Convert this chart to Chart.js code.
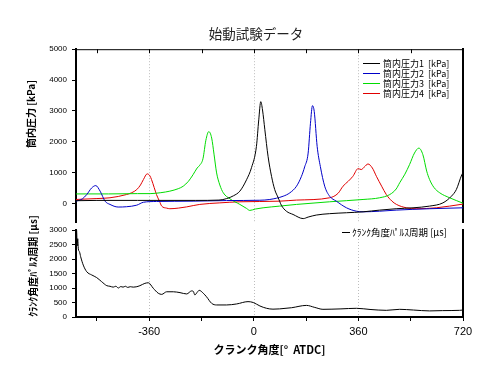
<!DOCTYPE html>
<html><head><meta charset="utf-8">
<script src="https://cdn.jsdelivr.net/npm/chart.js@4"></script>
<style>
html,body{margin:0;padding:0;background:#fff;}
#wrap{position:relative;width:500px;height:381px;overflow:hidden;}
.pane{position:absolute;left:0;}
</style></head><body>
<div id="wrap">
  <div class="pane" style="top:0;width:500px;height:226px"><canvas id="c1" width="500" height="226"></canvas></div>
  <div class="pane" style="top:200px;width:500px;height:181px"><canvas id="c2" width="500" height="181"></canvas></div>
</div>
<script>
// ---------------- data ----------------
const angleTicks = [-540, -360, -180, 0, 180, 360, 540, 720];
const angleLabels = [-360, 0, 360, 720];
const gridAngles = [-360, 0, 360];
const pressureTicks = [0, 1000, 2000, 3000, 4000, 5000];
const periodTicks = [0, 500, 1000, 1500, 2000, 2500, 3000];

const seriesNames = ['筒内圧力1  [kPa]', '筒内圧力2  [kPa]', '筒内圧力3  [kPa]', '筒内圧力4  [kPa]'];
const pulseName = 'ｸﾗﾝｸ角度ﾊﾟﾙｽ周期 [μs]';

const p1Angle = [-612,-540,-400,-200,-120,-93,-70,-48,-25,-8,9,17,24,30,38,49,61,72,84,95,112,135,170,187,215,261,319,376,433,490,548,605,651,680,697,716,720];
const p1Value = [90,100,100,100,110,160,250,400,770,1160,1850,2710,3300,3030,2390,1530,880,450,185,-60,-250,-355,-490,-440,-375,-330,-300,-270,-215,-170,-140,-85,20,235,450,935,1000];

const p2Angle = [-612,-590,-575,-558,-544,-529,-512,-495,-467,-438,-403,-380,-335,-209,-94,21,55,101,124,147,164,175,187,195,202,208,218,229,244,261,284,319,353,376,433,490,605,720];
const p2Value = [75,150,290,505,580,400,75,-30,-115,-105,-55,40,65,75,95,105,130,235,345,560,880,1185,1635,2600,3170,2980,1850,1200,560,235,75,-140,-250,-270,-250,-215,-170,-140];

const p3Angle = [-612,-500,-400,-357,-320,-289,-260,-243,-225,-209,-195,-186,-175,-165,-155,-145,-137,-128,-117,-105,-82,-48,-25,-14,5,32,89,147,261,376,433,468,490,502,520,536,553,568,582,595,605,620,640,674,720];
const p3Value = [310,310,320,320,350,400,480,560,720,935,1150,1240,1450,2050,2330,2120,1600,990,600,345,150,-30,-160,-225,-180,-140,-85,-30,55,130,185,290,470,670,950,1260,1635,1795,1580,1050,775,520,345,185,10];

const p4Angle = [-612,-540,-495,-438,-420,-403,-390,-380,-367,-358,-352,-343,-335,-325,-317,-300,-289,-260,-231,-186,-117,-48,89,147,261,290,307,325,341,359,370,380,393,408,422,440,456,475,491,525,559,628,720];
const p4Value = [130,160,185,290,350,450,600,775,960,900,775,520,290,80,-85,-150,-170,-150,-110,-30,20,55,75,110,185,330,560,720,880,1130,1100,1180,1280,1150,880,560,290,80,-30,-140,-170,-140,-20];

const pulseAngle = [-612,-610,-608,-606,-604,-600,-596,-587,-575,-558,-541,-524,-506,-495,-484,-475,-466,-458,-450,-442,-434,-425,-415,-405,-392,-375,-363,-346,-329,-317,-300,-277,-254,-231,-214,-208,-203,-195,-188,-174,-163,-145,-128,-94,-59,-20,-2,21,44,66,89,130,181,210,238,300,353,400,456,502,550,605,650,708,720];
const pulseValue = [2650,3000,2450,2700,2350,2250,2080,1790,1560,1450,1360,1220,1080,1060,1030,1060,1000,1050,1030,1060,1020,1045,1030,1040,1080,1160,1180,990,820,780,870,870,840,795,900,880,760,850,920,820,700,470,415,415,450,530,500,380,300,270,280,320,400,330,265,280,300,260,230,265,240,210,220,230,240];

// ---------------- helpers ----------------
const CJK = "'Noto Sans CJK JP', 'Noto Sans', sans-serif";
const NUM = "'Liberation Sans', Arial, sans-serif";
const pts = (xs, ys) => xs.map((x, i) => ({x, y: ys[i]}));
const noEdgePad = s => { s.paddingTop = 0; s.paddingBottom = 0; s.paddingLeft = 0; s.paddingRight = 0; };

const framePlugin = {
  id: 'frame',
  beforeDatasetsDraw(chart, args, o) {
    const {ctx, chartArea: a, scales: {x}} = chart;
    ctx.save();
    ctx.strokeStyle = '#bdbdbd'; ctx.lineWidth = 1; ctx.setLineDash([1, 2]);
    for (const v of gridAngles) {
      const px = Math.round(x.getPixelForValue(v)) + 0.5;
      ctx.beginPath(); ctx.moveTo(px, a.top); ctx.lineTo(px, a.bottom); ctx.stroke();
    }
    ctx.restore();
  },
  afterDraw(chart, args, o) {
    const {ctx, chartArea: a, scales: {x}} = chart;
    ctx.save();
    ctx.strokeStyle = '#000'; ctx.lineWidth = 1;
    if (o.topBorder) {
      ctx.beginPath(); ctx.moveTo(a.left, a.top + 0.5); ctx.lineTo(a.right, a.top + 0.5); ctx.stroke();
      for (const v of angleTicks) {
        const px = Math.round(x.getPixelForValue(v)) + 0.5;
        ctx.beginPath(); ctx.moveTo(px, a.top); ctx.lineTo(px, a.top + 4); ctx.stroke();
      }
    }
    // y-axis title
    ctx.save();
    ctx.fillStyle = '#000';
    ctx.font = 'bold 10px ' + CJK;
    ctx.translate(o.titleX, o.titleY); ctx.rotate(-Math.PI / 2);
    ctx.textAlign = 'center'; ctx.textBaseline = 'middle';
    ctx.fillText(o.yTitle, 0, 0);
    ctx.restore();
    // legend
    const L = o.legend;
    ctx.font = L.font + ' ' + CJK;
    ctx.textAlign = 'left'; ctx.textBaseline = 'middle';
    chart.data.datasets.forEach((d, i) => {
      const y = Math.round(L.y0 + i * L.dy) + 0.5;
      ctx.strokeStyle = d.borderColor; ctx.lineWidth = 1;
      ctx.beginPath(); ctx.moveTo(L.x0, y); ctx.lineTo(L.x1, y); ctx.stroke();
      ctx.fillStyle = '#000';
      ctx.fillText(d.label, L.tx, y);
    });
    ctx.restore();
  }
};

const lineDS = (label, xs, ys, color) => ({
  label, data: pts(xs, ys), borderColor: color, backgroundColor: color,
  borderWidth: 1, pointRadius: 0, fill: false, cubicInterpolationMode: 'monotone'
});

const xScale = (display, height) => ({
  type: 'linear', min: -612, max: 720, display,
  afterBuildTicks: s => { s.ticks = angleTicks.map(v => ({value: v})); },
  afterFit: s => { noEdgePad(s); s.height = height; },
  ticks: {
    autoSkip: false, maxRotation: 0, padding: 4, color: '#000',
    font: {family: NUM, size: 11},
    callback: v => angleLabels.includes(v) ? String(v) : ''
  },
  grid: {drawOnChartArea: false, drawTicks: true, tickLength: 4, tickColor: '#000', tickWidth: 1},
  border: {display: true, color: '#000', width: 2}
});

const yLeft = (min, max, ticks) => ({
  type: 'linear', position: 'left', min, max,
  afterBuildTicks: s => { s.ticks = ticks.map(v => ({value: v})); },
  afterFit: s => { noEdgePad(s); s.width = 64; },
  ticks: {padding: 5, color: '#000', font: {family: NUM, size: 8}, callback: v => String(v)},
  grid: {drawOnChartArea: false, drawTicks: true, tickLength: 4, tickColor: '#000', tickWidth: 1},
  border: {display: true, color: '#000', width: 2}
});
const yRight = (min, max) => ({
  type: 'linear', position: 'right', min, max,
  afterFit: s => { noEdgePad(s); s.width = 37; },
  ticks: {display: false},
  grid: {drawOnChartArea: false, drawTicks: false},
  border: {display: true, color: '#000', width: 2}
});

// ---------------- top chart ----------------
new Chart(document.getElementById('c1'), {
  type: 'line',
  data: {datasets: [
    lineDS(seriesNames[0], p1Angle, p1Value, '#000000'),
    lineDS(seriesNames[1], p2Angle, p2Value, '#0000c8'),
    lineDS(seriesNames[2], p3Angle, p3Value, '#00dc00'),
    lineDS(seriesNames[3], p4Angle, p4Value, '#e00000')
  ]},
  options: {
    responsive: false, animation: false,
    layout: {padding: {left: 12, right: 0, top: 0, bottom: 4}},
    scales: {x: xScale(false, 0), y: yLeft(-600, 5000, pressureTicks), yR: yRight(-600, 5000)},
    plugins: {
      legend: {display: false}, tooltip: {enabled: false},
      title: {display: true, text: '始動試験データ', color: '#222',
        font: {family: CJK, size: 13.5, weight: 'normal'}, padding: {top: 26, bottom: 7}},
      frame: {topBorder: true, yTitle: '筒内圧力 [kPa]', titleX: 31, titleY: 114,
        legend: {x0: 363, x1: 380, tx: 383, y0: 63, dy: 9.9, font: '9px'}}
    }
  },
  plugins: [framePlugin]
});

// ---------------- bottom chart ----------------
new Chart(document.getElementById('c2'), {
  type: 'line',
  data: {datasets: [lineDS(pulseName, pulseAngle, pulseValue, '#000000')]},
  options: {
    responsive: false, animation: false,
    layout: {padding: {left: 12, right: 0, top: 30, bottom: 24}},
    scales: {
      x: Object.assign(xScale(true, 40), {
        title: {display: true, text: 'クランク角度[°  ATDC]', color: '#000',
          font: {family: CJK, size: 11, weight: 'bold'}, padding: {top: 0, bottom: 1}}
      }),
      y: yLeft(0, 3000, periodTicks), yR: yRight(0, 3000)
    },
    plugins: {
      legend: {display: false}, tooltip: {enabled: false},
      frame: {topBorder: false, yTitle: pulseName, titleX: 33, titleY: 66,
        legend: {x0: 342, x1: 350, tx: 352, y0: 32, dy: 10, font: '9.5px'}}
    }
  },
  plugins: [framePlugin]
});
</script>
</body></html>
